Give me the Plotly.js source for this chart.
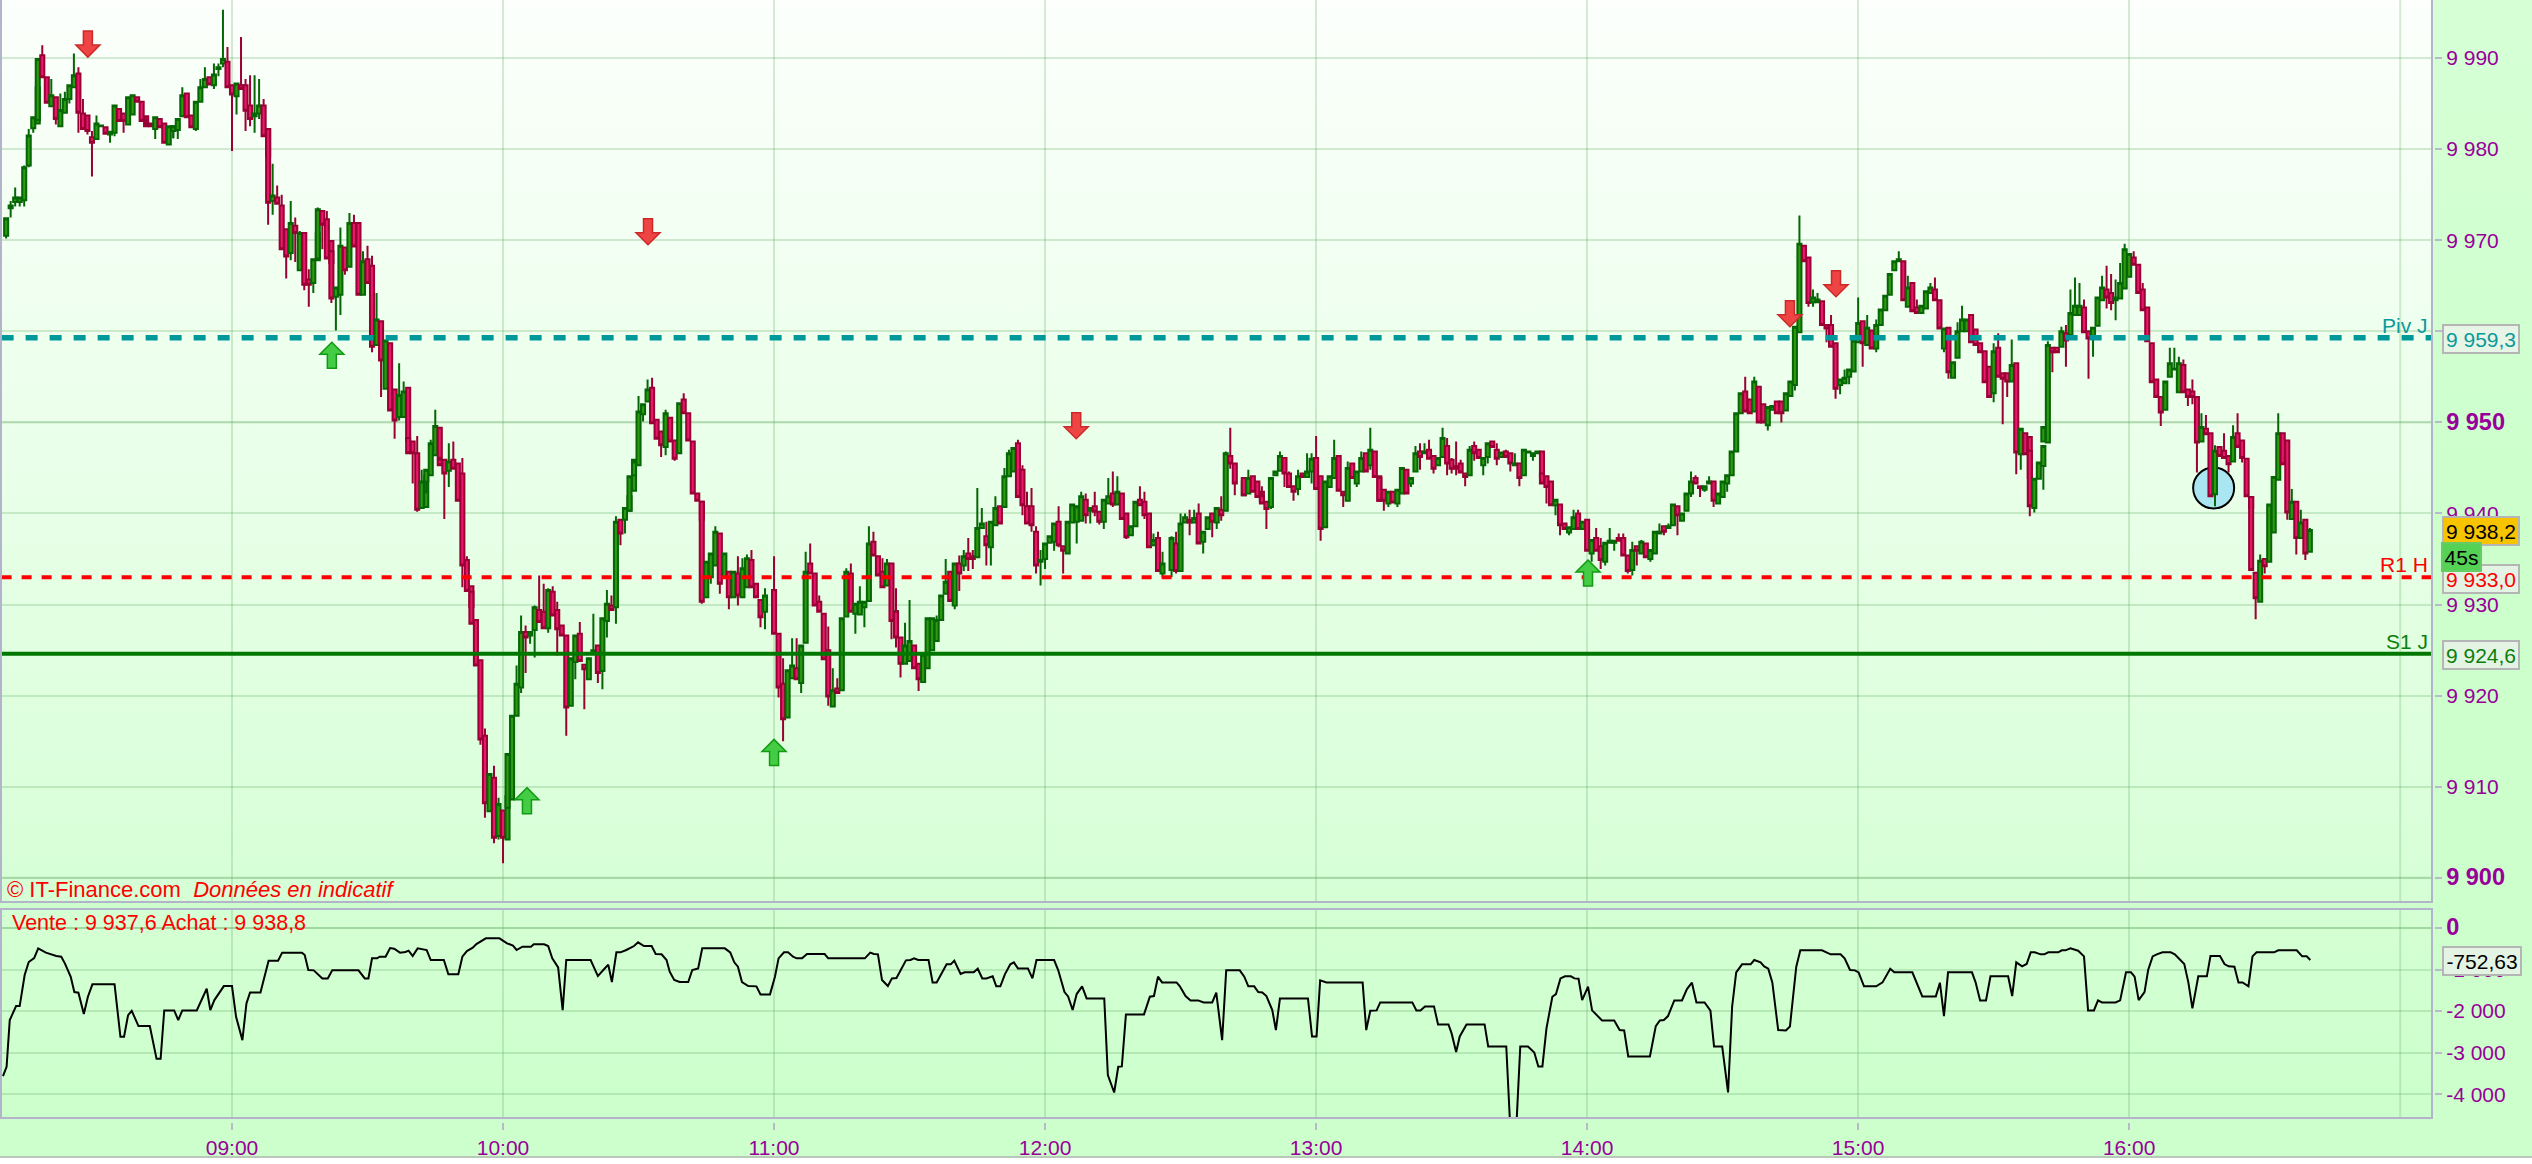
<!DOCTYPE html>
<html lang="fr">
<head>
<meta charset="utf-8">
<title>IT-Finance</title>
<script src="https://cdn.plot.ly/plotly-3.0.1.min.js"></script>
<style>
html,body{margin:0;padding:0;width:2532px;height:1164px;overflow:hidden;background:#fff}
#stage{position:relative;width:2532px;height:1164px}
.bg{position:absolute}
#chart{position:absolute;left:0;top:0;width:2532px;height:1164px}
</style>
</head>
<body>
<div id="stage">
<div class="bg" style="left:0;top:0;width:2532px;height:1157px;background:linear-gradient(180deg,#d6ffd6 0%,#ccffcc 45%,#ccffcc 100%)"></div>
<div class="bg" style="left:0;top:0;width:2432px;height:902px;background:linear-gradient(180deg,#fcfffc 0%,#e6ffe6 60%,#d6ffd6 100%)"></div>
<div class="bg" style="left:0;top:909px;width:2432px;height:209px;background:linear-gradient(180deg,#d4ffd4,#ccffcc)"></div>
<div id="chart"></div>
</div>
<script>
// minute-of-day, open, high, low, close
const bars08h = [
[490,9970.5,9972.4,9970.2,9972.4],[491,9973.5,9974.3,9972.5,9973.8],[492,9974.2,9975.8,9973.7,9974.7],[493,9974.2,9974.7,9973.7,9974.7],
[494,9974.4,9978.2,9973.7,9978],[495,9978.2,9982.2,9978,9981.5],[496,9982.3,9983.5,9981.8,9983.5],[497,9982.8,9986.8,9982.8,9986.8],
[497,9983.2,9989.9,9983.2,9989.9],[498,9990.3,9991.4,9987.9,9987.9],[499,9987.9,9987.9,9985.1,9985.1],[500,9984.7,9987.7,9984.7,9985.9],
[501,9985.7,9985.7,9982.7,9983.3],[502,9982.5,9986.1,9982.5,9984.3],[503,9984,9986.3,9984,9985.5],[504,9985.5,9987,9985,9987],
[505,9986.8,9990.5,9986.8,9988.1],[506,9988.3,9989,9981.8,9984],[507,9983.9,9985.5,9982.2,9982.2],[508,9983.7,9983.7,9981.6,9982],
[509,9981.3,9982,9977,9980.7],[510,9981.1,9983.7,9981,9982.8],[511,9982.5,9982.6,9982.4,9982.6],[512,9982.4,9982.4,9981.7,9981.7],
[513,9981.6,9981.9,9980.7,9981.9],[514,9981.8,9984.8,9981.4,9984.8],[515,9984.4,9984.4,9983.1,9983.1],[516,9983.9,9983.9,9981.8,9983.1],
[517,9982.7,9985.7,9982.7,9985.7],[518,9983.8,9985.9,9983.8,9985.9],[519,9985.7,9985.7,9985.2,9985.2],[520,9985.2,9985.2,9983.1,9983.1],
[521,9983.6,9983.6,9982.6,9982.6],[521,9982.8,9983.6,9982.5,9982.5],[522,9982.8,9982.8,9982.5,9982.5],[523,9982.2,9983.5,9981.1,9983.5],
[524,9983.3,9983.3,9982.4,9982.4],[525,9982.8,9982.8,9980.7,9980.7],[526,9980.5,9982.5,9980.5,9982.5],[527,9982,9982.5,9981.2,9982.5],
[527,9982,9982.5,9981.2,9982.5],[528,9982.1,9983.3,9981.1,9983.3],[529,9983.6,9986.8,9983.6,9985.9],[530,9986.1,9986.1,9983.5,9983.5],
[531,9983.7,9983.7,9982.4,9982.4],[532,9982.2,9985.2,9982,9985.2],[533,9985.2,9987.7,9985.2,9986.8],[534,9986.8,9989,9986.8,9987.7],
[535,9987.9,9987.9,9987.1,9987.1],[536,9987,9989.4,9986.6,9988.2],[537,9988.8,9989.4,9988,9989],[538,9989.4,9995.3,9989,9989.9],
[539,9989.6,9991.2,9986.8,9986.8]
];
const bars09h = [
[540,9987,9987,9979.8,9986],[541,9985.8,9987.2,9983.8,9987.2],[542,9987,9992.3,9986.6,9986.6],[543,9987,9987.7,9982,9984.2],
[544,9984.8,9988.1,9982.5,9983.3],[545,9983.6,9988.1,9981.8,9983.9],[546,9983.9,9987.7,9983.3,9984.8],[547,9984.8,9985.5,9981.4,9981.4],
[548,9982.2,9982.2,9979.2,9979.2],[548,9982.2,9982.2,9971.7,9974.1],[549,9974.3,9978.4,9972.8,9974.9],[550,9974.7,9976,9974,9974],
[551,9973.8,9975,9969,9969],[552,9971.2,9971.2,9965.8,9968.2],[553,9968.6,9974.3,9967.8,9971.9],[554,9971.6,9972.5,9967.6,9970.8],
[555,9966.7,9971,9966.7,9970.8],[556,9970.8,9970.8,9964.5,9965.1],[557,9965.7,9966.8,9962.7,9965.1],[558,9965.3,9967.9,9964.2,9967.9],
[559,9967.8,9970.8,9967.8,9970.8],[559,9968,9973.6,9968,9973.4],[560,9973.2,9973.2,9969,9971.7],[561,9972.3,9973.2,9968,9968],
[562,9969.9,9969.9,9967.5,9967.5],[562,9968.8,9968.8,9963.1,9963.6],[563,9963.8,9964.8,9960.1,9964.8],[564,9964,9971.4,9961.8,9969.4],
[565,9969.2,9969.2,9966.2,9966.7],[566,9967.1,9973,9967.1,9971.9],[567,9971.9,9972.8,9969.3,9969.3],[568,9971.9,9971.9,9964,9964],
[569,9964,9968.8,9964,9967.7],[570,9967.9,9969.4,9965.3,9965.3],[571,9967.2,9968.3,9957.7,9958.3],[572,9958.5,9964.2,9958.5,9961.3],
[573,9961.1,9961.1,9952.8,9956.8],[574,9953.7,9959,9953.7,9959],[575,9958.7,9958.7,9951.3,9951.3],[576,9953.6,9953.6,9948.2,9950.2],
[577,9950.6,9956.5,9950.2,9953],[578,9950.6,9954.5,9950.6,9953.4],[579,9953.8,9953.8,9948,9948],[579,9948.3,9948.3,9946.6,9946.6],
[580,9947.9,9947.9,9943.3,9946.6],[581,9946.6,9948.5,9940.2,9940.4],[582,9940.6,9944.8,9940.6,9943.5],[583,9940.7,9944.1,9940.7,9944.1],
[583,9943.5,9944.8,9942.2,9944.8],[584,9944.2,9948.1,9944.2,9947.7],[585,9946.4,9951.4,9946.4,9949.6],[586,9949.4,9949.4,9946,9946],
[586,9945.9,9945.9,9945.3,9945.3],[587,9945.9,9945.9,9939.4,9944.4],[588,9944.7,9947.7,9942.9,9945.7],[589,9945.9,9947.9,9944.9,9944.9],
[590,9945.5,9945.5,9941.4,9941.4],[591,9944.4,9946.1,9931.9,9934.3],[592,9934.9,9935.3,9931.5,9931.5],[593,9932,9932,9929.7,9929.7],
[593,9931.4,9931.4,9927.9,9927.9],[594,9928.3,9928.3,9923.3,9923.3],[595,9923.9,9923.9,9914.6,9915.2],[596,9915.6,9916.4,9906.6,9908.2],
[597,9907.3,9911.4,9907.3,9911.4],[598,9911,9912.3,9903.8,9904.4],[599,9904.6,9908.8,9904.2,9908.1]
];
const bars10h = [
[600,9907.4,9907.4,9901.6,9904.4],[601,9904.2,9909,9904.2,9909],[601,9907.7,9913.6,9907.7,9913.6],[602,9908.6,9917.8,9908.6,9917.8],
[603,9917.8,9923.3,9917.8,9921.3],[604,9920.9,9928.8,9920.3,9927],[605,9927,9927.7,9922.5,9926.4],[606,9926.6,9927,9925.7,9927],
[607,9927.2,9929.9,9924.2,9929.7],[608,9929.4,9933.2,9928.1,9928.1],[609,9929.2,9932.3,9927.4,9927.4],[610,9927.4,9931.8,9926.9,9931.6],
[611,9931.4,9932,9928.8,9928.8],[612,9929.4,9930.3,9924.4,9927.3],[613,9927.7,9927.7,9926.6,9926.6],[614,9926.6,9926.6,9915.6,9918.7],
[615,9918.9,9924.1,9918.9,9924.1],[616,9923.7,9926.6,9921.8,9926.6],[617,9926.8,9928.1,9923.8,9923.8],[618,9923.4,9923.4,9918.5,9922.9],
[619,9921.8,9924.1,9921.8,9924.1],[620,9924.8,9929,9924.8,9925],[621,9925.5,9925.5,9921.4,9922.5],[622,9922.7,9928.5,9920.7,9928.5],
[623,9928.2,9931.6,9926.4,9930.1],[624,9929.9,9931,9929.4,9929.4],[625,9929.7,9939.7,9927.9,9939.1],[626,9939.3,9939.3,9936.5,9937.8],
[627,9939.3,9940.6,9937.8,9940.6],[628,9940.3,9941.9,9940.3,9941.9],[628,9940.3,9944.1,9940.3,9944.1],[629,9942.5,9945.9,9942.5,9945.9],
[629,9944.2,9945.7,9944.2,9945.7],[630,9945.3,9952.9,9945.3,9951.2],[631,9950.9,9952,9950.1,9952],[632,9952.3,9954.7,9952.3,9953.6],
[633,9953.8,9954.9,9949.9,9949.9],[634,9950.3,9950.3,9948.2,9948.2],[635,9949,9949,9946.2,9947.5],[636,9947.3,9951.4,9946.4,9951],
[637,9950.5,9950.5,9947.9,9947.9],[638,9948,9948,9945.8,9946],[639,9946.6,9952.1,9946.6,9952.1],[640,9952.5,9953.2,9951,9951],
[641,9951,9951,9948,9948],[642,9947.9,9947.9,9942.2,9942.2],[643,9942.2,9942.2,9941.4,9941.4],[644,9941.3,9941.3,9939.3,9939.3],
[644,9941.3,9941.3,9930.1,9930.3],[645,9930.8,9934.7,9930.8,9934.7],[646,9933,9935.6,9932.3,9935.6],[647,9934.3,9938.6,9934.3,9938],
[648,9937.8,9937.8,9931.2,9932.3],[649,9933,9935.6,9933,9935.6],[650,9933.6,9933.6,9929.5,9930.8],[651,9930.8,9933.6,9930.8,9933.6],
[652,9933.4,9935.3,9929.9,9931],[653,9930.8,9935.1,9930.8,9934],[654,9931.9,9935.5,9931.9,9935.1],[655,9934.9,9936,9931.9,9931.9],
[656,9932.3,9932.3,9930.8,9930.8],[657,9930.5,9930.5,9927.5,9928.6],[658,9929.2,9931.8,9927.3,9931]
];
const bars11h = [
[660,9931.6,9935.3,9926.8,9926.8],[661,9926.8,9926.8,9919.8,9920.9],[662,9921.3,9924.1,9915,9917.4],[663,9917.6,9922.8,9917.6,9922.8],
[664,9921.9,9926.3,9921.9,9923.3],[665,9923,9926.3,9921.8,9921.8],[666,9921.4,9925.5,9920.3,9925.5],[667,9925.8,9935.8,9925.8,9933.6],
[668,9934.5,9936.7,9933.4,9933.4],[669,9933.4,9933.4,9929.9,9929.9],[670,9930.3,9931,9929.2,9929.2],[671,9929,9929,9924,9924],
[672,9925,9927.6,9918.9,9919.9],[673,9918.8,9923,9918.8,9920.6],[674,9920.8,9921.9,9920.3,9920.3],[675,9920.6,9928.5,9920.6,9928.5],
[676,9928.7,9934,9928.7,9933.6],[677,9933.4,9934.5,9929.2,9929.2],[678,9929,9930.1,9926.8,9930.1],[679,9928.9,9932,9928.9,9930.3],
[680,9929.7,9930.3,9927.5,9930.3],[681,9930.4,9938.6,9930.4,9936.7],[682,9936.9,9938,9935.4,9935.4],[683,9935.3,9935.3,9933.2,9933.2],
[684,9933.6,9935.1,9931.9,9931.9],[685,9932.1,9935,9932.1,9934.5],[686,9934.5,9934.5,9926.2,9928.2],[687,9928.4,9931,9928.4,9929.3],
[687,9929.2,9931.8,9925.3,9926.4],[688,9926.4,9926.4,9922,9923.5],[689,9923.5,9928,9923.5,9925.5],[690,9923.8,9930.5,9923.8,9926],
[691,9925.5,9925.5,9923,9923],[692,9923.5,9923.5,9920.5,9921.8],[693,9921.5,9924.5,9921.5,9924.5],[694,9923,9928.5,9923,9928.5],
[695,9925,9928.5,9925,9928.5],[696,9926,9928.8,9926,9928.3],[697,9928.3,9931,9928.3,9931],[698,9931.2,9935,9931.2,9932.5],
[699,9933.6,9933.6,9930.4,9930.4],[700,9929.9,9934.5,9929.5,9934.5],[701,9934.5,9935.4,9931.5,9933.4],[702,9934.3,9936,9933.7,9935.3],
[703,9935.6,9937.3,9933.7,9935],[704,9935.3,9936,9933.9,9935],[705,9935.2,9942.8,9935.2,9938.4],[706,9938.4,9940.6,9938.4,9938.9],
[707,9937.5,9939.1,9934.3,9936.5],[708,9936.3,9939.1,9934.3,9939.1],[709,9938.7,9941.9,9938.7,9940.6],[710,9940.8,9940.8,9938.9,9938.9],
[711,9940.7,9945,9940.7,9944.1],[712,9944.1,9947,9944,9946.6],[713,9944.6,9947.2,9944.6,9947.2],[714,9947.7,9948.1,9941.8,9941.8],
[715,9944.8,9945.3,9939.8,9940.9],[716,9940.8,9942.4,9938.9,9938.9],[717,9940.8,9942.8,9938,9938.7],[718,9938,9938.6,9933.4,9934.3],
[719,9934.7,9936,9932.1,9934.9]
];
const bars12h = [
[720,9935,9936.7,9933.9,9936.7],[721,9936.8,9937.5,9936.8,9937.5],[722,9936.9,9938.9,9935.9,9938.9],[723,9939.1,9940.8,9936.3,9936.5],
[724,9936.4,9936.4,9933.4,9935.9],[725,9935.6,9939.1,9935.6,9939.1],[726,9939,9941,9939,9941],[727,9939.1,9940.8,9936.7,9940.8],
[728,9939.2,9942.4,9939.2,9941.9],[729,9941.5,9942.2,9938.9,9939.8],[730,9940.3,9940.6,9938.9,9940.6],[731,9940.8,9942.4,9939.7,9940.2],
[732,9940.2,9940.2,9938.8,9939.1],[733,9939.1,9941.5,9938.3,9941.5],[734,9941.1,9943.9,9941.1,9941.9],[735,9942.2,9944.6,9940.7,9941],
[736,9941,9944.1,9941,9942.4],[737,9942.2,9942.2,9939.4,9939.4],[738,9940,9940,9937.2,9937.4],[739,9937.6,9938.6,9937.6,9938.6],
[740,9938.6,9941.3,9938.6,9941.3],[741,9941.5,9943,9940.9,9940.9],[742,9941.3,9942.4,9939.4,9939.8],[743,9940,9940,9936.3,9936.3],
[744,9936.5,9937.8,9936.5,9937.1],[745,9937.3,9938,9933.7,9933.7],[746,9933.4,9935.8,9933,9934.5],[748,9933.8,9937.5,9933,9937.3],
[749,9936.7,9938,9933.4,9933.7],[750,9933.7,9940,9933.7,9938.9],[751,9939,9940,9939,9939.6],[752,9939.3,9940.4,9937.6,9939],
[753,9939,9940.4,9939,9939.5],[754,9940,9941.1,9936.7,9936.7],[755,9936.9,9938,9935.6,9938],[756,9938.3,9939.6,9938.3,9939.6],
[757,9940,9940,9937.4,9939.1],[758,9939,9940.6,9938.3,9940.6],[759,9940.4,9941.9,9939.2,9939.8],[760,9940.3,9946.8,9940.3,9946.6],
[761,9946.3,9949.4,9944.9,9945.5],[762,9945.5,9945.5,9942,9943.3],[764,9942,9943.5,9942,9943.5],[764,9943.9,9943.9,9942,9942],
[765,9942.2,9944.8,9942.2,9943.9],[766,9944.1,9944.1,9942.4,9942.4],[767,9943.5,9943.5,9941.8,9941.8],[768,9942.4,9942.4,9941.4,9941.4],
[768,9941.9,9943,9941.1,9941.1],[769,9941.3,9941.3,9938.3,9940.5],[770,9940.7,9943.9,9940.5,9943.9],[771,9944.2,9944.6,9944.2,9944.6],
[772,9944.7,9946.8,9944.7,9946.3],[773,9946.1,9946.1,9942.9,9944.4],[774,9944.4,9944.6,9942.9,9942.9],[775,9943,9943,9941.4,9942.4],
[776,9942.7,9944.8,9942,9944.1],[777,9944.4,9944.4,9944,9944],[778,9944,9946.6,9944,9944.6],[779,9944.6,9946.6,9943.3,9946]
];
const bars13h = [
[780,9946.1,9948.5,9942.7,9942.7],[781,9944.1,9944.1,9937,9938.3],[782,9938.5,9943.5,9938.5,9943.5],[783,9942.9,9944.1,9942.9,9944.1],
[784,9943.9,9948.1,9943.9,9946.1],[785,9946.3,9946.3,9942.5,9942.5],[786,9942.4,9942.4,9940.7,9942],[787,9941.4,9945.7,9941.4,9945],
[788,9945.5,9945.5,9943.9,9943.9],[789,9943.3,9944.6,9942.9,9944.6],[790,9944.6,9946.8,9944.6,9946.1],[791,9946.6,9946.6,9944.6,9944.6],
[792,9945.3,9949.4,9944.8,9947],[793,9946.8,9946.8,9944,9944],[794,9944.1,9944.1,9941.4,9941.4],[794,9943.9,9943.9,9941.4,9941.4],
[795,9942.6,9942.6,9940.3,9941.4],[796,9941.1,9942.4,9940.7,9942.4],[797,9942.4,9942.4,9941.2,9941.2],[798,9941.1,9942.6,9940.7,9942.6],
[799,9942.2,9945,9942.2,9945],[800,9944.8,9944.8,9942.2,9942.2],[801,9943.3,9943.9,9942.9,9943.9],[802,9944.6,9947.4,9944.6,9946.6],
[803,9946.8,9947.7,9944.8,9946.2],[804,9946.6,9947.7,9946.6,9946.8],[805,9947,9948.1,9946,9946],[806,9946.3,9946.3,9944.4,9944.9],
[807,9945.3,9946.1,9945.3,9946.1],[808,9946.2,9949.4,9946.2,9948.3],[809,9947.4,9948.3,9944.2,9945.5],[810,9945.9,9946.1,9944.4,9944.9],
[811,9945.2,9947.9,9944.2,9944.9],[812,9945.5,9945.9,9944.5,9944.5],[813,9944.4,9944.4,9943,9944],[814,9944.2,9947.4,9944.2,9947],
[815,9947.4,9947.9,9945.8,9946.6],[816,9947,9947,9946.1,9946.1],[817,9945.3,9946.1,9944.2,9946.1],[818,9946.2,9947.7,9945.5,9947.7],
[819,9947.9,9947.9,9947.3,9947.3],[820,9947,9947.7,9945.3,9946],[821,9946.2,9946.7,9946.2,9946.7],[822,9946.8,9947,9946.2,9946.2],
[823,9946.6,9946.6,9944.6,9945.5],[824,9945.3,9946.6,9945.3,9945.5],[825,9945.5,9945.5,9943,9943.9],[826,9944.2,9947,9944.2,9947],
[827,9946.7,9946.8,9946.7,9946.8],[828,9946.3,9946.6,9945.8,9946.6],[829,9946.6,9946.8,9946.6,9946.8],[830,9946.8,9946.8,9944,9944],
[830,9944.4,9944.4,9943.3,9943.3],[831,9944.1,9944.1,9941.1,9942.9],[832,9943.5,9943.5,9940.9,9940.9],[833,9940.9,9941.5,9939.8,9941.5],
[834,9941,9941,9937.6,9938.7],[835,9938.9,9938.9,9938.3,9938.3],[836,9937.9,9938.5,9937.6,9938.5],[837,9938.3,9940.4,9938.3,9939.6],
[838,9940,9940.4,9938.3,9938.3],[839,9938.3,9939.1,9938.3,9939.1]
];
const bars14h = [
[840,9939.3,9939.3,9935.9,9935.9],[841,9935.6,9937.1,9934.7,9937.1],[842,9937.3,9938.4,9935.9,9935.9],[843,9936.4,9937.3,9933.9,9934.9],
[844,9934.7,9936.8,9934.3,9936.8],[845,9936.8,9938.4,9936.8,9937],[846,9936.8,9937,9935.9,9937],[847,9937.3,9937.8,9937,9937],
[848,9937.3,9937.8,9935.4,9935.4],[849,9935.4,9935.4,9933.4,9933.7],[850,9933.8,9936.9,9933.2,9936],[851,9936.4,9936.4,9934.3,9935.9],
[852,9935.6,9937.1,9935.6,9936.9],[853,9936.7,9936.7,9935.2,9935.2],[854,9935,9936,9934.7,9936],[855,9935.6,9938,9935.6,9938],
[856,9937.8,9938.9,9937.8,9938],[857,9938.6,9938.6,9937.6,9938],[858,9938.4,9938.9,9938.4,9938.6],[859,9938.7,9941,9938.7,9941],
[860,9940.8,9940.8,9937.6,9939.8],[861,9939.2,9940,9939.2,9940],[862,9940.3,9942.2,9940.3,9942.2],[863,9942.2,9944.6,9941.8,9943.5],
[864,9943.9,9944.2,9943.3,9943.3],[865,9943,9943,9941.8,9942.8],[866,9942.6,9943,9942.4,9943],[867,9943.3,9944.1,9943.3,9943.5],
[868,9943.5,9943.5,9940.7,9941.4],[869,9941.1,9942.2,9941.1,9942.2],[870,9941.8,9943.5,9941.8,9943.5],[871,9943.3,9944.2,9942.4,9944.2],
[872,9944.2,9946.8,9944.2,9946.8],[873,9946.8,9951,9946.8,9951],[874,9951,9953.2,9951,9953.2],[875,9953.4,9955,9951.2,9951.2],
[876,9952.5,9952.5,9951,9951],[877,9951.2,9955,9951.2,9954.5],[878,9953.9,9953.9,9950,9950],[879,9952,9952,9950,9950],
[880,9949.7,9951.7,9949.1,9951.7],[881,9951.4,9951.8,9951.4,9951.8],[882,9952.3,9952.3,9951,9951],[883,9952.3,9952.3,9950,9951],
[884,9951.3,9953.2,9951.3,9953.2],[885,9952.9,9954.5,9952.9,9954.5],[886,9954.1,9960.5,9953.5,9960.5],[887,9959.9,9972.7,9959.9,9969.6],
[888,9969.4,9969.4,9967.7,9967.7],[889,9968.1,9968.1,9962.7,9963.1],[890,9963.2,9964.6,9962.7,9963.7],[891,9963.2,9964.2,9963.2,9963.5],
[892,9963.3,9963.3,9960.7,9960.7],[893,9960.7,9960.7,9958.8,9960.3],[894,9960.7,9961.8,9958.3,9958.3],[895,9958.7,9958.7,9952.6,9953.7],
[896,9954.1,9954.7,9953.1,9954.7],[897,9954.3,9955.8,9954.3,9954.9],[898,9955,9955.8,9954.2,9955.8],[899,9955.6,9959,9955.6,9959]
];
const bars15h = [
[900,9958.8,9963.7,9958.8,9960.9],[901,9961.1,9961.1,9956.1,9958.7],[902,9958.5,9961.8,9958.5,9960.4],[903,9960.1,9960.1,9958.1,9958.1],
[904,9958.1,9961.3,9957.7,9960.7],[905,9960.7,9962.4,9960.7,9962.4],[906,9962.3,9963.9,9962.3,9963.9],[907,9964,9966.3,9964,9966.3],
[908,9966.7,9967.7,9966.7,9967.7],[909,9967.7,9968.8,9967.7,9967.9],[910,9967.7,9967.7,9963.4,9963.4],[911,9962.7,9966.1,9962.7,9964.8],
[912,9965.3,9965.3,9962.2,9962.2],[913,9962.6,9963.5,9962,9962],[914,9962,9962.8,9962,9962.8],[915,9962.5,9964.4,9962.5,9964.4],
[916,9964.2,9965.3,9964.2,9964.8],[917,9964.6,9965.9,9963.4,9963.4],[918,9963.4,9963.4,9960.3,9960.3],[919,9958.1,9960.3,9957.7,9960.3],
[920,9960.4,9960.4,9954.8,9955.5],[921,9954.9,9956.6,9954.9,9956.6],[922,9957.1,9961,9957.1,9960],[923,9960,9962.8,9960,9961.3],
[924,9960,9961.3,9960,9961.3],[925,9961.8,9961.8,9958.8,9958.8],[926,9960.2,9960.2,9958.5,9958.5],[927,9958.7,9958.7,9957.7,9957.7],
[928,9957.8,9957.8,9954.4,9954.4],[929,9956.1,9956.1,9952.8,9952.8],[930,9953.2,9958.7,9952.2,9957.8],[931,9958.2,9959.8,9955,9955],
[932,9955.4,9955.4,9949.8,9954.8],[933,9955.4,9955.4,9952.8,9954.5],[934,9954.5,9959.1,9954.5,9956.3],[935,9956.5,9956.5,9944.3,9946.7],
[936,9946.5,9949.3,9944.8,9949.3],[937,9948.8,9948.8,9946.5,9946.5],[938,9948.4,9948.4,9943.9,9943.9],[938,9946.9,9946.9,9939.7,9940.8],
[939,9940.6,9943.8,9940.1,9943.8],[940,9943.8,9945.6,9943.8,9945.6],[941,9945.2,9947.4,9942.6,9947.4],[941,9947.9,9949.5,9947.9,9949.5],
[942,9947.8,9958.9,9947.8,9958.5],[943,9958.2,9958.2,9955.5,9957.7],[944,9958.2,9958.2,9957.7,9957.7],[945,9958.3,9960.5,9958.3,9960],
[946,9959.8,9960.7,9956.1,9959],[947,9959.6,9964.6,9959.6,9962],[948,9961.8,9965.9,9961.8,9962.8],[949,9961.8,9965.3,9961.8,9962.8],
[950,9962.6,9963.5,9959.9,9959.9],[951,9960,9960,9954.8,9959.2],[952,9959.4,9960.4,9957.2,9960.4],[953,9960.6,9963.7,9960.6,9963.7],
[954,9963.4,9966.1,9963.4,9964.8],[955,9964.6,9967.2,9962.5,9963.7],[956,9964.2,9966.3,9962.3,9963.1],[957,9963.4,9965.7,9961.2,9963.7],
[958,9963.6,9967.5,9963.6,9965.3],[959,9964.7,9969.6,9964.7,9969]
];
const bars16h = [
[960,9966,9968.5,9966,9968.5],[961,9968.1,9968.8,9967.3,9967.3],[962,9967.3,9967.3,9964.2,9964.2],[963,9964.6,9965.3,9962.3,9962.3],
[964,9962.6,9962.6,9958.9,9958.9],[965,9958.7,9958.7,9954.4,9954.4],[966,9954.7,9954.7,9952.8,9952.8],[967,9952.8,9952.8,9949.6,9951.1],
[968,9951.4,9954.5,9951.4,9954.5],[969,9955,9958.2,9955,9956.5],[970,9955.8,9958.2,9955.8,9955.9],[971,9953.3,9957.2,9953.3,9956.5],
[972,9956.3,9956.9,9953.3,9953.3],[973,9953.6,9953.6,9951.8,9952.8],[974,9953.4,9954.7,9952,9952.8],[975,9952.8,9952.8,9944.5,9947.8],
[976,9947.9,9951,9947.9,9949.5],[977,9949.3,9950.8,9948.7,9948.7],[978,9948.8,9948.8,9941.9,9941.9],[979,9942.1,9947.5,9940.8,9946.9],
[980,9947.3,9947.3,9946.3,9946.3],[981,9946.9,9948.8,9946.1,9946.1],[982,9946.3,9946.3,9944.5,9945.4],[983,9945.7,9949.7,9945.7,9948.4],
[984,9948.8,9951,9947.3,9947.3],[985,9948,9948,9945.6,9946.1],[986,9946,9946,9941.9,9941.9],[987,9941.8,9941.8,9940.6,9940.6],
[987,9941.8,9941.8,9933.8,9933.8],[988,9933.5,9933.5,9928.4,9930.7],[989,9930.3,9935.5,9930.3,9934.8],[990,9935,9935,9933.4,9934.2],
[991,9934.7,9941,9934.7,9941],[992,9937.9,9944,9937.9,9944],[993,9943.7,9951,9943.7,9948.8],[994,9948.8,9948.8,9945.4,9945.4],
[995,9948,9948,9939.3,9940.1],[996,9939.4,9942.7,9939.4,9941.3],[997,9941.3,9941.3,9935.5,9937.3],[998,9937.3,9940.4,9937.3,9939],
[999,9939.3,9939.3,9934.9,9935.6],[1000,9935.8,9938.4,9935.8,9938.2]
];
// [minute-of-day, value] of the lower indicator line
const flow08h = [[489.3,-3566],[490.1,-3341],[490.8,-2217],[492.2,-1880],[493,-1880],[494.1,-1133],[495,-819],[496.2,-723],[497.1,-490],[498.8,-594],[501.1,-675],[502.2,-691],[503,-851],[504.3,-1173],[505.1,-1542],[506,-1558],[507.2,-2072],[508.1,-1655],[509.1,-1357],[514,-1357],[515.3,-2618],[516.1,-2618],[517,-2096],[517.8,-1992],[519.3,-2361],[521.8,-2361],[523.3,-3149],[524.2,-3149],[525,-1984],[527.2,-1984],[528.1,-2217],[529,-1984],[532.2,-1984],[534.4,-1462],[535.2,-1976],[536.1,-1735],[538.2,-1398]];
const flow09h = [[540,-1398],[540.9,-2137],[542.3,-2699],[543.2,-1815],[544,-1550],[546.3,-1550],[548.1,-787],[550.2,-787],[551.1,-594],[555.5,-594],[556.1,-651],[556.9,-1012],[558.1,-1020],[560,-1213],[561.2,-1213],[562.2,-1020],[568,-1020],[569.4,-1213],[570.2,-1213],[571,-731],[572.1,-731],[572.7,-691],[574,-691],[575,-482],[575.9,-498],[577.2,-594],[578.4,-578],[579.1,-546],[580,-675],[581.1,-490],[583.1,-530],[584,-771],[586.9,-771],[587.9,-1116],[590.1,-1116],[591,-691],[592,-554],[593.3,-474],[594.1,-386],[596.2,-249],[599.2,-249]];
const flow10h = [[600.9,-369],[602.2,-426],[603,-530],[604.3,-450],[606.2,-450],[606.8,-394],[609.1,-394],[610,-434],[610.9,-731],[612.2,-948],[613.2,-1976],[614,-771],[619.4,-771],[621,-1157],[622.2,-1012],[623.3,-883],[624.1,-1301],[625.1,-586],[626,-586],[627.3,-530],[629,-434],[629.9,-345],[631.2,-434],[632.9,-434],[633.8,-626],[635.1,-634],[636.2,-771],[636.9,-1052],[637.9,-1253],[639.1,-1301],[641,-1301],[641.9,-1012],[643.2,-972],[644.1,-490],[649.1,-490],[650.3,-586],[651.2,-827],[652,-931],[652.9,-1301],[654.3,-1397],[656.1,-1405],[657,-1598],[659.1,-1598]];
const flow11h = [[660.2,-1172],[661,-731],[662.2,-586],[663.1,-586],[664.2,-691],[665,-731],[666.2,-731],[667.3,-626],[671.2,-626],[672,-731],[680.1,-731],[681.3,-594],[682.1,-626],[683,-634],[683.9,-1253],[685.2,-1397],[686.1,-1213],[687.1,-1205],[689.2,-779],[690.2,-771],[691,-731],[691.9,-771],[694.2,-771],[695.1,-1309],[696,-1309],[698.2,-875],[699.1,-875],[699.9,-787],[701.3,-1108],[702.2,-1068],[704.2,-1068],[705.1,-980],[706.1,-1213],[707,-1213],[708.4,-1164],[709.2,-1405],[710.1,-1405],[711.1,-1116],[712.3,-875],[713.1,-827],[714,-972],[716.2,-972],[717.2,-1213],[718.1,-771]];
const flow12h = [[722,-771],[722.9,-1012],[724.3,-1542],[725.1,-1646],[726.1,-1975],[727,-1590],[728.2,-1405],[729.2,-1694],[733.1,-1694],[733.9,-3541],[735.3,-3959],[736.2,-3340],[737,-3332],[737.9,-2080],[741.9,-2080],[743.2,-1654],[744.1,-1638],[745,-1172],[745.9,-1309],[749.1,-1309],[749.8,-1397],[751.1,-1638],[752.2,-1743],[753.9,-1743],[755.1,-1791],[757,-1791],[757.9,-1558],[759.2,-2698],[760.1,-1020],[763.1,-1020],[764.1,-1172],[765,-1405],[766.3,-1405],[767.2,-1542],[768.1,-1550],[769,-1638],[770.3,-1975],[771.1,-2457],[772,-1694],[778.2,-1694],[779.1,-2610]];
const flow13h = [[780.1,-2610],[780.9,-1261],[782.3,-1309],[790.3,-1309],[791.1,-2457],[792,-1991],[793.4,-1983],[794.2,-1791],[801.3,-1791],[802.2,-1983],[803.1,-1983],[804.1,-1887],[806.1,-1887],[807,-2321],[809.3,-2321],[810,-2537],[811,-2987],[811.8,-2610],[813.3,-2321],[817.3,-2321],[818.1,-2851],[822.1,-2851],[822.9,-4625],[824.4,-4625],[825.2,-2851],[826.9,-2851],[828.3,-2995],[829.2,-3332],[830.1,-3332],[831,-2417],[832.3,-1654],[833.1,-1590],[834.1,-1213],[835.1,-1164],[836.4,-1164],[837.2,-1213],[838.1,-1221],[838.9,-1735]];
const flow14h = [[840.2,-1413],[841.1,-1983],[843.3,-2224],[846,-2224],[847.2,-2457],[848.2,-2465],[849.1,-3091],[853.9,-3091],[855.2,-2361],[856.1,-2224],[857,-2216],[857.9,-2120],[859.3,-1743],[861,-1743],[862.1,-1469],[863.2,-1317],[864.2,-1791],[866,-1791],[867.3,-1991],[868.1,-2851],[869.9,-2851],[871.2,-3959],[872.1,-1895],[873,-1068],[874.3,-875],[876.2,-875],[877,-771],[878.4,-827],[879.2,-923],[880.1,-980],[881,-1309],[882.3,-2457],[884,-2465],[884.9,-2369],[886.3,-931],[887.2,-538],[892,-538],[893.9,-634],[896.1,-634],[897,-731],[898.2,-1012],[899.3,-1020]];
const flow15h = [[900.1,-1068],[901.3,-1405],[904,-1405],[905.4,-1309],[907.1,-980],[908,-1068],[912,-1068],[914.2,-1646],[917.2,-1646],[918.1,-1317],[919,-2120],[919.9,-1068],[925.2,-1068],[926,-1309],[927,-1743],[928.3,-1743],[929.3,-1164],[933.2,-1164],[934.1,-1638],[935,-827],[936.3,-923],[937.3,-867],[938.2,-586],[939.1,-586],[940.4,-634],[941.2,-634],[942.1,-586],[944.3,-586],[945.1,-538],[945.9,-538],[947,-490],[948.7,-546],[950,-683],[950.9,-1983],[952.2,-1983],[953.1,-1743],[954,-1791],[957,-1791],[958,-1743],[959.3,-1068]];
const flow16h = [[960.4,-1068],[961.2,-1172],[962.1,-1735],[963.4,-1542],[964.2,-1012],[965.2,-683],[966.1,-634],[967.4,-586],[969.2,-586],[970.1,-634],[972.2,-867],[973.1,-1309],[974,-1935],[975.3,-1164],[977.2,-1164],[978,-675],[980.1,-675],[981.1,-867],[982,-923],[983.3,-931],[984.2,-1309],[985.1,-1309],[986.4,-1405],[987.3,-683],[988.2,-586],[992.1,-586],[993,-538],[997.1,-538],[998.3,-683],[999.3,-683],[1000.1,-771]];

const pivotLevel = 9959.3, r1Level = 9933.0, s1Level = 9924.6;
const levelNames = ['Piv J','R1 H','S1 J'];
const levelLabels = ['9 959,3','9 933,0','9 924,6'];
const lastPriceLabel = '9 938,2', countdownLabel = '45s', lastFlowLabel = '-752,63';
const quoteLine = 'Vente : 9 937,6 Achat : 9 938,8';
const priceTicks = [9900,9910,9920,9930,9940,9950,9960,9970,9980,9990];
const priceTickLabels = ['9 900','9 910','9 920','9 930','9 940','9 950','9 960','9 970','9 980','9 990'];
const boldPriceTicks = [9900,9950];
const flowTicks = [0,-1000,-2000,-3000,-4000];
const flowTickLabels = ['0','-1 000','-2 000','-3 000','-4 000'];
const hourTicks = [540,600,660,720,780,840,900,960];
const hourLabels = ['09:00','10:00','11:00','12:00','13:00','14:00','15:00','16:00'];
const sellSignals = [[508.1,9990.1],[632.1,9969.5],[726.9,9948.2],[884.9,9960.5],[895.1,9963.8]];
const buySignals = [[562.1,9958.8],[605.3,9909.9],[660,9915.2],[840.2,9934.9]];
const circleMark = [978.7,9942.8];

const W = 2532, H = 1164, plotRight = 2432;
const px = v => v / W, py = v => 1 - v / H;
const FONT = '"Liberation Sans", Arial, sans-serif';
const PURPLE = '#990099';

const bars = [].concat(bars08h,bars09h,bars10h,bars11h,bars12h,bars13h,bars14h,bars15h,bars16h);
const flow = [].concat(flow08h,flow09h,flow10h,flow11h,flow12h,flow13h,flow14h,flow15h,flow16h);
const xStart = 488.64, xEnd = 1027.04;

const candle = {
  type:'candlestick', xaxis:'x', yaxis:'y', hoverinfo:'skip', showlegend:false,
  x:bars.map(b=>b[0]), open:bars.map(b=>b[1]), high:bars.map(b=>b[2]), low:bars.map(b=>b[3]), close:bars.map(b=>b[4]),
  whiskerwidth:0,
  increasing:{line:{color:'#056605',width:2},fillcolor:'#2f9a10'},
  decreasing:{line:{color:'#990033',width:2},fillcolor:'#e8186c'}
};
const levelTrace = (y,color,width,dash) => ({type:'scatter',mode:'lines',xaxis:'x',yaxis:'y',hoverinfo:'skip',showlegend:false,
  x:[489,xEnd],y:[y,y],line:{color,width,dash}});
const flowTrace = {type:'scatter',mode:'lines',xaxis:'x2',yaxis:'y2',hoverinfo:'skip',showlegend:false,
  x:flow.map(p=>p[0]),y:flow.map(p=>p[1]),line:{color:'#000000',width:2,shape:'linear'}};

const GRID='rgba(100,170,100,0.26)', GRIDB='rgba(90,160,90,0.24)', TICK='#b9b9c9', BORDER='#b3b3cc';
const hline = (yref,y)=>({type:'line',layer:'below',xref:'paper',yref,x0:0,x1:px(plotRight),y0:y,y1:y,line:{color:GRIDB,width:2}});
const vline = (yref,x)=>({type:'line',layer:'below',xref:'x',yref:yref+' domain',x0:x,x1:x,y0:0,y1:1,line:{color:GRID,width:2}});
const rect = (x0,y0,x1,y1,color,w)=>({type:'rect',layer:'above',xref:'paper',yref:'paper',x0:px(x0),x1:px(x1),y0:py(y1),y1:py(y0),line:{color,width:w},fillcolor:'rgba(0,0,0,0)'});
const arrow = (s,down)=>({type:'path',layer:'above',xref:'x',yref:'y',xsizemode:'pixel',ysizemode:'pixel',xanchor:s[0],yanchor:s[1],
  path: down ? 'M 0 0 L -12 12 L -4.5 12 L -4.5 26 L 4.5 26 L 4.5 12 L 12 12 Z' : 'M 0 0 L -12 -12 L -4.5 -12 L -4.5 -26 L 4.5 -26 L 4.5 -12 L 12 -12 Z',
  fillcolor: down ? '#ee4444' : '#44cc44', line:{color: down ? '#cc2a2a' : '#149914',width:1.5}});

const shapes = [
  hline('y',9950),hline('y',9900),hline('y2',0),
  vline('y',1020),vline('y2',1020),
  {type:'circle',layer:'below',xref:'x',yref:'y',xsizemode:'pixel',ysizemode:'pixel',xanchor:circleMark[0],yanchor:circleMark[1],x0:-20.5,x1:20.5,y0:-20.5,y1:20.5,fillcolor:'#aae6f2',line:{color:'#000000',width:2}},
  ...sellSignals.map(s=>arrow(s,true)),
  ...buySignals.map(s=>arrow(s,false)),
  rect(1,-2,plotRight,902,BORDER,2),
  rect(1,909,plotRight,1118,BORDER,2),
  {type:'line',layer:'above',xref:'paper',yref:'paper',x0:0,x1:1,y0:py(1157),y1:py(1157),line:{color:'#b9c9b9',width:2}}
];

const valueBox = (text,cy,color,bg,border,w,cx)=>({xref:'paper',yref:'paper',x:px(cx||2480.5),y:py(cy),xanchor:'center',yanchor:'middle',showarrow:false,
  text,width:w||74,height:26,align:'center',bgcolor:bg,bordercolor:border,borderwidth:2,borderpad:0,font:{family:FONT,size:21,color}});
const label = (text,x,cy,color,anchor)=>({xref:'paper',yref:'paper',x:px(x),y:py(cy),xanchor:anchor||'right',yanchor:'middle',showarrow:false,text,font:{family:FONT,size:21,color}});

const annotations = [
  label(levelNames[0],2430,325,'#0a9a9a'),
  label(levelNames[1],2430,564,'#ff0000'),
  label(levelNames[2],2430,641,'#0a7f0a'),
  valueBox(levelLabels[0],338.5,'#0a9a9a','#e6f5e6','#b5b5b5'),
  valueBox(lastPriceLabel,531,'#000000','#f8c400','#b5b5b5'),
  valueBox(levelLabels[1],578.5,'#ff0000','#e4f4e4','#b5b5b5'),
  valueBox(countdownLabel,556.5,'#000000','#55d155','#66cc66',37,2461.5),
  valueBox(levelLabels[2],654.5,'#0a7f0a','#e4f4e4','#b5b5b5'),
  valueBox(lastFlowLabel,960.5,'#000000','#e4f4e4','#b5b5b5',76,2481.5),
  {xref:'paper',yref:'paper',x:px(5),y:py(890),xanchor:'left',yanchor:'middle',showarrow:false,align:'left',
   text:'© IT-Finance.com &nbsp;<i>Données en indicatif</i>',font:{family:FONT,size:22,color:'#ff0000'}},
  {xref:'paper',yref:'paper',x:px(10),y:py(923),xanchor:'left',yanchor:'middle',showarrow:false,align:'left',
   text:quoteLine,font:{family:FONT,size:21.5,color:'#ff0000'}}
];

const layout = {
  width:W,height:H,autosize:false,margin:{l:0,r:0,t:0,b:0,pad:0},showlegend:false,
  paper_bgcolor:'rgba(0,0,0,0)',plot_bgcolor:'rgba(0,0,0,0)',
  font:{family:FONT,size:21,color:PURPLE},
  boxmode:'overlay',boxgap:0.1,boxgroupgap:0,
  xaxis:{domain:[0,px(plotRight)],range:[xStart,xEnd],fixedrange:true,anchor:'y',rangeslider:{visible:false},
    tickmode:'array',tickvals:hourTicks,ticktext:hourLabels.map(()=>''),showticklabels:false,ticks:'',
    showgrid:true,gridcolor:GRID,gridwidth:2,zeroline:false,showline:false},
  xaxis2:{domain:[0,px(plotRight)],range:[xStart,xEnd],fixedrange:true,anchor:'free',position:py(1122),
    tickmode:'array',tickvals:hourTicks,ticktext:hourLabels,ticks:'outside',ticklen:7,tickwidth:2,tickcolor:TICK,
    tickfont:{family:FONT,size:21,color:PURPLE},showgrid:true,gridcolor:GRID,gridwidth:2,zeroline:false,showline:false},
  yaxis:{domain:[py(902),1],range:[9897.35,9996.37],fixedrange:true,side:'right',anchor:'free',position:px(2434),
    tickmode:'array',tickvals:priceTicks,
    ticktext:priceTickLabels.map((t,i)=>boldPriceTicks.includes(priceTicks[i])?`<span style="font-size:23.5px"><b>${t}</b></span>`:t),
    ticks:'outside',ticklen:7,tickwidth:2,tickcolor:TICK,tickfont:{family:FONT,size:21,color:PURPLE},
    showgrid:true,gridcolor:GRID,gridwidth:2,zeroline:false,showline:false},
  yaxis2:{domain:[py(1118),py(909)],range:[-4573,457],fixedrange:true,side:'right',anchor:'free',position:px(2434),
    tickmode:'array',tickvals:flowTicks,
    ticktext:flowTickLabels.map((t,i)=>flowTicks[i]===0?`<span style="font-size:23.5px"><b>${t}</b></span>`:t),
    ticks:'outside',ticklen:7,tickwidth:2,tickcolor:TICK,tickfont:{family:FONT,size:21,color:PURPLE},
    showgrid:true,gridcolor:GRID,gridwidth:2,zeroline:false,showline:false},
  shapes,annotations
};

Plotly.newPlot('chart',[
  candle,
  levelTrace(pivotLevel,'#009999',5.5,'12px,12px'),
  levelTrace(r1Level,'#ff0000',4,'10px,10px'),
  levelTrace(s1Level,'#007700',4,'solid'),
  flowTrace
],layout,{displayModeBar:false,staticPlot:true,responsive:false});
</script>
</body>
</html>
